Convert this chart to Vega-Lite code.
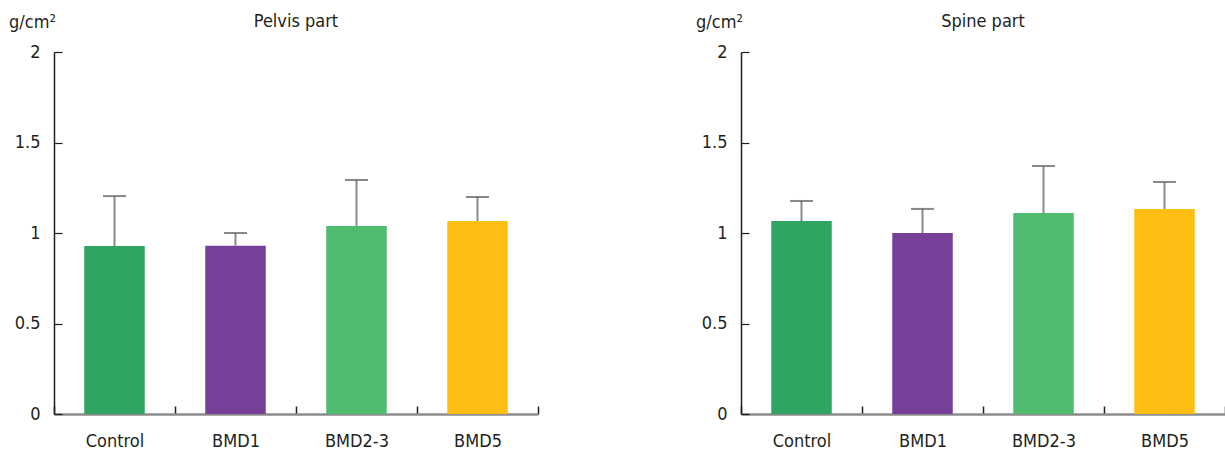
{
  "$schema": "https://vega.github.io/schema/vega-lite/v6.json",
  "background": "white",
  "padding": {"left": 8, "top": 13, "right": 0, "bottom": 0},
  "datasets": {
    "bmd": [
      {"panel": "Pelvis part", "group": "Control", "mean": 0.928, "upper": 1.204},
      {"panel": "Pelvis part", "group": "BMD1", "mean": 0.93, "upper": 1.0},
      {"panel": "Pelvis part", "group": "BMD2-3", "mean": 1.039, "upper": 1.293},
      {"panel": "Pelvis part", "group": "BMD5", "mean": 1.066, "upper": 1.199},
      {"panel": "Spine part", "group": "Control", "mean": 1.066, "upper": 1.177},
      {"panel": "Spine part", "group": "BMD1", "mean": 1.0, "upper": 1.133},
      {"panel": "Spine part", "group": "BMD2-3", "mean": 1.11, "upper": 1.37},
      {"panel": "Spine part", "group": "BMD5", "mean": 1.133, "upper": 1.282}
    ]
  },
  "config": {
    "font": "DejaVu Sans Condensed, Roboto, sans-serif",
    "view": {"stroke": null},
    "title": {"fontSize": 18, "fontWeight": "normal", "color": "#231f20", "anchor": "middle", "frame": "group", "offset": -18},
    "axis": {"labelFont": "DejaVu Sans Condensed, Roboto, sans-serif", "titleFont": "DejaVu Sans Condensed, Roboto, sans-serif"}
  },
  "bounds": "flush",
  "spacing": 203,
  "hconcat": [
    {
      "title": "Pelvis part",
      "width": 484,
      "height": 362,
      "data": {"name": "bmd"},
      "transform": [{"filter": "datum.panel === 'Pelvis part'"}],
      "encoding": {
        "x": {"field": "group", "type": "nominal", "sort": ["Control", "BMD1", "BMD2-3", "BMD5"],
          "scale": {"paddingInner": 0, "paddingOuter": 0},
          "axis": {"title": null, "labelAngle": 0, "labelFontSize": 18, "labelColor": "#231f20", "labelPadding": 26, "tickBand": "extent", "tickSize": -8, "tickColor": "#231f20", "tickWidth": 1.5, "domainColor": "#8c8c8c", "domainWidth": 2.5}}
      },
      "layer": [
        {"mark": {"type": "bar", "width": {"band": 0.5}},
          "encoding": {
            "y": {"field": "mean", "type": "quantitative", "scale": {"domain": [0, 2]},
              "axis": {"title": "g/cm²", "titleAngle": 0, "titleAlign": "center", "titleBaseline": "middle", "titleX": -22, "titleY": -30, "titleFontSize": 18, "titleFontWeight": "normal", "titleColor": "#231f20",
                "values": [0, 0.5, 1, 1.5, 2], "format": "~g", "labelFontSize": 18, "labelColor": "#231f20", "labelPadding": 22, "tickSize": -8, "tickColor": "#231f20", "tickWidth": 1.2, "domainColor": "#231f20", "domainWidth": 1.5, "grid": false}},
            "color": {"field": "group", "type": "nominal", "legend": null,
              "scale": {"domain": ["Control", "BMD1", "BMD2-3", "BMD5"], "range": ["#30a462", "#763f98", "#4fbb6f", "#fdbf13"]}}
          }},
        {"mark": {"type": "rule", "color": "#8a8a8a", "strokeWidth": 2},
          "encoding": {"y": {"field": "mean", "type": "quantitative"}, "y2": {"field": "upper"}}},
        {"mark": {"type": "tick", "color": "#555555", "size": 23, "thickness": 2, "orient": "horizontal"},
          "encoding": {"y": {"field": "upper", "type": "quantitative"}}}
      ]
    },
    {
      "title": "Spine part",
      "width": 484,
      "height": 362,
      "data": {"name": "bmd"},
      "transform": [{"filter": "datum.panel === 'Spine part'"}],
      "encoding": {
        "x": {"field": "group", "type": "nominal", "sort": ["Control", "BMD1", "BMD2-3", "BMD5"],
          "scale": {"paddingInner": 0, "paddingOuter": 0},
          "axis": {"title": null, "labelAngle": 0, "labelFontSize": 18, "labelColor": "#231f20", "labelPadding": 26, "tickBand": "extent", "tickSize": -8, "tickColor": "#231f20", "tickWidth": 1.5, "domainColor": "#8c8c8c", "domainWidth": 2.5}}
      },
      "layer": [
        {"mark": {"type": "bar", "width": {"band": 0.5}},
          "encoding": {
            "y": {"field": "mean", "type": "quantitative", "scale": {"domain": [0, 2]},
              "axis": {"title": "g/cm²", "titleAngle": 0, "titleAlign": "center", "titleBaseline": "middle", "titleX": -22, "titleY": -30, "titleFontSize": 18, "titleFontWeight": "normal", "titleColor": "#231f20",
                "values": [0, 0.5, 1, 1.5, 2], "format": "~g", "labelFontSize": 18, "labelColor": "#231f20", "labelPadding": 22, "tickSize": -8, "tickColor": "#231f20", "tickWidth": 1.2, "domainColor": "#231f20", "domainWidth": 1.5, "grid": false}},
            "color": {"field": "group", "type": "nominal", "legend": null,
              "scale": {"domain": ["Control", "BMD1", "BMD2-3", "BMD5"], "range": ["#30a462", "#763f98", "#4fbb6f", "#fdbf13"]}}
          }},
        {"mark": {"type": "rule", "color": "#8a8a8a", "strokeWidth": 2},
          "encoding": {"y": {"field": "mean", "type": "quantitative"}, "y2": {"field": "upper"}}},
        {"mark": {"type": "tick", "color": "#555555", "size": 23, "thickness": 2, "orient": "horizontal"},
          "encoding": {"y": {"field": "upper", "type": "quantitative"}}}
      ]
    }
  ]
}
